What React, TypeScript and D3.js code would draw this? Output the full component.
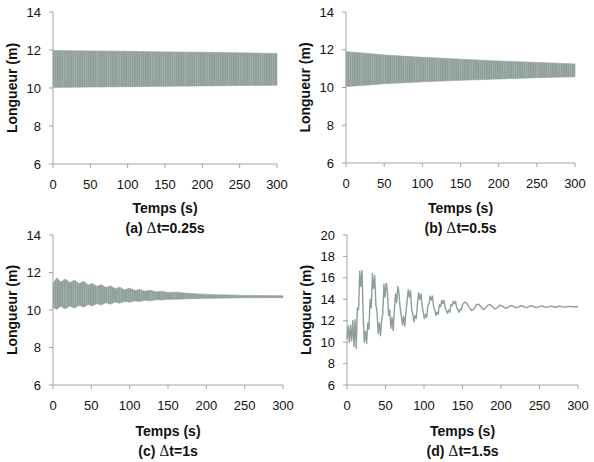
import * as d3 from "d3";

// envelope of the dense oscillation: [time (s), upper (m), lower (m)]
const envA: [number, number, number][] = [
  [0, 11.97, 10.03], [50, 11.95, 10.05], [100, 11.93, 10.07], [150, 11.9, 10.09],
  [200, 11.88, 10.11], [250, 11.85, 10.13], [300, 11.82, 10.15],
];
const envB: [number, number, number][] = [
  [0, 11.9, 10.05], [25, 11.82, 10.12], [50, 11.72, 10.2], [100, 11.6, 10.3],
  [150, 11.5, 10.38], [200, 11.4, 10.45], [250, 11.33, 10.52], [300, 11.25, 10.57],
];
const envC: [number, number, number][] = [
  [0, 11.4, 10.12], [5, 11.72, 10.03], [10, 11.5, 10.2], [16, 11.65, 10.06],
  [22, 11.45, 10.22], [28, 11.6, 10.1], [34, 11.4, 10.25], [40, 11.53, 10.15],
  [46, 11.33, 10.3], [51, 11.42, 10.22], [57, 11.27, 10.34], [63, 11.35, 10.27],
  [69, 11.2, 10.39], [75, 11.28, 10.31], [81, 11.14, 10.43], [87, 11.22, 10.36],
  [93, 11.08, 10.46], [100, 11.16, 10.41], [107, 11.04, 10.49], [113, 11.1, 10.45],
  [120, 11.0, 10.52], [127, 11.05, 10.49], [135, 10.96, 10.55], [142, 11.0, 10.53],
  [150, 10.93, 10.57], [160, 10.95, 10.57], [175, 10.89, 10.6], [190, 10.86, 10.62],
  [210, 10.82, 10.63], [230, 10.8, 10.64], [250, 10.78, 10.65], [275, 10.77, 10.66],
  [300, 10.76, 10.66],
];

// Δt = 1.5 s run: [time (s), length (m)]
const seriesD: [number, number][] = [
  [0, 10.3], [1.5, 11.5], [3, 10.0], [4.5, 11.6], [6, 10.1], [7.5, 12.0], [9, 9.6],
  [10.5, 12.1], [12, 9.4], [13.5, 13.2], [15, 13.0], [16.5, 16.6], [18, 15.2],
  [19.5, 16.7], [21, 12.5], [22.5, 10.0], [24, 11.0], [25.5, 9.9], [27, 11.8],
  [28.5, 11.2], [30, 14.0], [31.5, 13.2], [33, 16.4], [34.5, 15.0], [36, 16.2],
  [37.5, 13.5], [39, 12.8], [40.5, 10.8], [42, 11.8], [43.5, 10.6], [45, 12.0],
  [46.5, 12.7], [48, 15.4], [49.5, 14.2], [51, 15.5], [52.5, 14.8], [54, 12.5],
  [55.5, 13.0], [57, 11.3], [58.5, 12.3], [60, 11.1], [61.5, 13.0], [63, 14.5],
  [64.5, 13.7], [66, 15.2], [67.5, 14.6], [69, 13.2], [70.5, 12.5], [72, 11.6],
  [73.5, 12.4], [75, 11.5], [76.5, 12.8], [78, 13.8], [79.5, 14.9], [81, 14.2],
  [82.5, 14.8], [84, 13.0], [85.5, 12.6], [87, 11.9], [88.5, 12.5], [90, 12.2],
  [91.5, 13.6], [93, 14.6], [94.5, 14.0], [96, 14.5], [97.5, 13.4], [99, 12.8],
  [100.5, 12.2], [102, 12.6], [103.5, 12.3], [105, 13.4], [106.5, 13.6], [108, 14.3],
  [109.5, 13.9], [111, 14.3], [112.5, 13.3], [114, 13.0], [115.5, 12.5], [117, 12.8],
  [118.5, 12.6], [120, 13.5], [121.5, 13.3], [123, 13.9], [124.5, 13.6], [126, 13.9],
  [127.5, 13.2], [129, 12.9], [130.5, 12.7], [132, 13.0], [133.5, 12.8], [135, 13.5],
  [136.5, 13.4], [138, 13.8], [139.5, 13.6], [141, 13.8], [142.5, 13.2], [144, 13.0],
  [145.5, 12.8], [147, 13.1], [148.5, 13.0], [150, 13.5], [153, 13.75], [156, 13.6],
  [159, 13.2], [162, 12.95], [165, 13.1], [168, 13.5], [171, 13.55], [174, 13.3],
  [177, 13.05], [180, 13.2], [183, 13.45], [186, 13.5], [189, 13.3], [192, 13.1],
  [195, 13.2], [198, 13.45], [201, 13.4], [204, 13.25], [207, 13.15], [210, 13.3],
  [213, 13.42], [216, 13.35], [219, 13.2], [222, 13.25], [225, 13.4], [228, 13.38],
  [231, 13.25], [234, 13.22], [237, 13.35], [240, 13.4], [243, 13.3], [246, 13.22],
  [249, 13.3], [252, 13.38], [255, 13.33], [258, 13.25], [261, 13.28], [264, 13.36],
  [267, 13.33], [270, 13.26], [273, 13.3], [276, 13.35], [279, 13.32], [282, 13.27],
  [285, 13.3], [288, 13.34], [291, 13.31], [294, 13.28], [297, 13.31], [300, 13.3],
];

const xTicks = [0, 50, 100, 150, 200, 250, 300];
const yTicksSmall = [6, 8, 10, 12, 14];
const yTicksLarge = [6, 8, 10, 12, 14, 16, 18, 20];
const captions = ["(a) ", "(b) ", "(c) ", "(d) "];
const steps = ["t=0.25s", "t=0.5s", "t=1s", "t=1.5s"];

const FONT = "'Liberation Sans', Arial, sans-serif";
const LINE = "#8e9e99";
const AXIS = "#a3a3a3";

interface PanelProps {
  idx: number;
  x0: number;
  x1: number;
  yTop: number;
  yBot: number;
  yMax: number;
  yTicks: number[];
  env?: [number, number, number][];
  series?: [number, number][];
  labelY: number;
}

function Panel({ idx, x0, x1, yTop, yBot, yMax, yTicks, env, series, labelY }: PanelProps) {
  const x = d3.scaleLinear().domain([0, 300]).range([x0, x1]);
  const y = d3.scaleLinear().domain([6, yMax]).range([yBot, yTop]);
  const cx = (x0 + x1) / 2;

  const band = env
    ? d3
        .area<[number, number, number]>()
        .x((d) => x(d[0]))
        .y0((d) => y(d[2]))
        .y1((d) => y(d[1]))(env)
    : null;
  const line = series
    ? d3
        .line<[number, number]>()
        .x((d) => x(d[0]))
        .y((d) => y(d[1]))(series)
    : null;

  return (
    <g fontFamily={FONT}>
      {band && <path d={band} fill="url(#stripes)" stroke={LINE} strokeWidth={0.6} />}
      {line && <path d={line} fill="none" stroke={LINE} strokeWidth={1.4} strokeLinejoin="round" />}

      <line x1={x0} x2={x0} y1={yTop} y2={yBot} stroke={AXIS} />
      <line x1={x0} x2={x1} y1={yBot} y2={yBot} stroke={AXIS} />
      {yTicks.map((t) => (
        <g key={t}>
          <line x1={x0 - 4} x2={x0} y1={y(t)} y2={y(t)} stroke={AXIS} />
          <text x={x0 - 12} y={y(t)} textAnchor="end" dominantBaseline="central" fontSize={13} fill="#111">
            {t}
          </text>
        </g>
      ))}
      {xTicks.map((t) => (
        <g key={t}>
          <line x1={x(t)} x2={x(t)} y1={yBot} y2={yBot + 4} stroke={AXIS} />
          <text x={x(t)} y={yBot + 25} textAnchor="middle" fontSize={13} fill="#111">
            {t}
          </text>
        </g>
      ))}

      <text
        transform={`translate(${x0 - 41},${(yTop + yBot) / 2}) rotate(-90)`}
        textAnchor="middle"
        dominantBaseline="central"
        fontSize={14}
        fontWeight="bold"
        fill="#111"
      >
        Longueur (m)
      </text>
      <text x={cx} y={labelY} textAnchor="middle" fontSize={14} fontWeight="bold" fill="#111">
        Temps (s)
      </text>
      <text x={cx} y={labelY + 20} textAnchor="middle" fontSize={14} fontWeight="bold" fill="#111">
        {captions[idx]}
        <tspan fontWeight="normal" fontFamily="'DejaVu Serif', serif">Δ</tspan>
        {steps[idx]}
      </text>
    </g>
  );
}

export default function App() {
  return (
    <svg
      width={594}
      height={462}
      style={{ position: "absolute", left: 0, top: 0, background: "#fff" }}
    >
      <defs>
        <pattern id="stripes" width={2.2} height={4} patternUnits="userSpaceOnUse">
          <rect width={2.2} height={4} fill="#a5b2ae" />
          <rect width={1.5} height={4} fill={LINE} />
        </pattern>
      </defs>
      <Panel idx={0} x0={53} x1={277} yTop={12} yBot={164} yMax={14} yTicks={yTicksSmall} env={envA} labelY={213} />
      <Panel idx={1} x0={346} x1={575} yTop={12} yBot={163} yMax={14} yTicks={yTicksSmall} env={envB} labelY={213} />
      <Panel idx={2} x0={53} x1={283} yTop={235} yBot={385} yMax={14} yTicks={yTicksSmall} env={envC} labelY={436} />
      <Panel idx={3} x0={347} x1={578} yTop={235} yBot={385} yMax={20} yTicks={yTicksLarge} series={seriesD} labelY={436} />
    </svg>
  );
}
